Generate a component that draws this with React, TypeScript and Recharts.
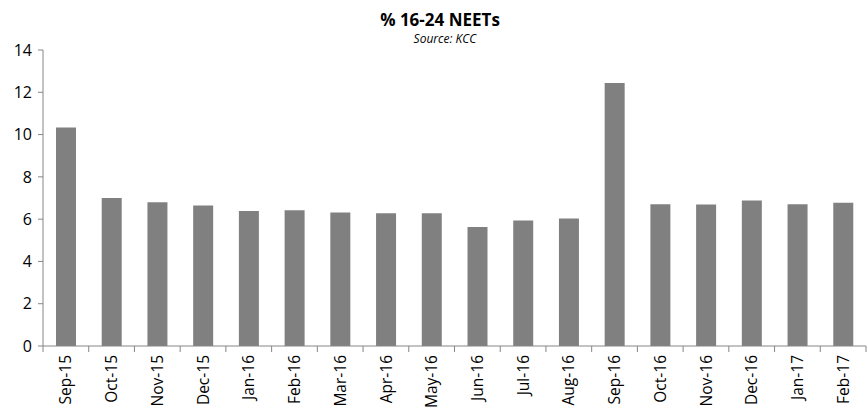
import { BarChart, Bar, XAxis, YAxis } from 'recharts'

const months = [
  'Sep-15', 'Oct-15', 'Nov-15', 'Dec-15', 'Jan-16', 'Feb-16', 'Mar-16', 'Apr-16', 'May-16',
  'Jun-16', 'Jul-16', 'Aug-16', 'Sep-16', 'Oct-16', 'Nov-16', 'Dec-16', 'Jan-17', 'Feb-17'
]
const neetPct = [10.33, 7.0, 6.8, 6.64, 6.39, 6.42, 6.31, 6.28, 6.28, 5.63, 5.93, 6.03, 12.44, 6.7, 6.69, 6.88, 6.7, 6.78]
const yTicks = [0, 2, 4, 6, 8, 10, 12, 14]

const data = months.map((month, i) => ({ month, value: neetPct[i] }))

const W = 868
const H = 411
const LEFT = 43
const RIGHT = 2
const TOP = 50
const XAXIS_H = 65
const FONT = '"Open Sans", sans-serif'
const AXIS = '#868686'

const band = (W - LEFT - RIGHT) / months.length

const MonthTick = ({ x, y, payload, index }: any) => {
  const last = index === months.length - 1
  return (
    <g>
      <line x1={x - band / 2} y1={y} x2={x - band / 2} y2={y + 6} stroke={AXIS} />
      {last && <line x1={x + band / 2} y1={y} x2={x + band / 2} y2={y + 6} stroke={AXIS} />}
      <text
        transform={`translate(${x},${y + 9}) rotate(-90)`}
        textAnchor="end"
        dy="0.36em"
        fontSize={15.5}
        fontFamily={FONT}
        fill="#000"
      >
        {payload.value}
      </text>
    </g>
  )
}

export default function App() {
  return (
    <div style={{ position: 'absolute', left: 0, top: 0, width: W, height: H, background: '#fff' }}>
      <svg width={W} height={H} style={{ position: 'absolute', left: 0, top: 0 }}>
        <text x={440} y={26} textAnchor="middle" fontSize={17} fontWeight="bold" fontFamily={FONT}>
          % 16-24 NEETs
        </text>
        <text x={445} y={43} textAnchor="middle" fontSize={12} fontStyle="italic" fontFamily={FONT}>
          Source: KCC
        </text>
      </svg>
      <BarChart
        width={W}
        height={H}
        data={data}
        margin={{ top: TOP, right: RIGHT, left: 0, bottom: 0 }}
        barSize={20}
        style={{ position: 'absolute', left: 0, top: 0 }}
      >
        <XAxis
          dataKey="month"
          interval={0}
          height={XAXIS_H}
          tickLine={false}
          tickSize={0}
          tickMargin={0}
          stroke={AXIS}
          tick={<MonthTick />}
        />
        <YAxis
          domain={[0, 14]}
          ticks={yTicks}
          width={LEFT}
          tickSize={5}
          tickMargin={6}
          stroke={AXIS}
          tick={{ fontSize: 16, fontFamily: FONT, fill: '#000' }}
        />
        <Bar dataKey="value" fill="#808080" isAnimationActive={false} />
      </BarChart>
    </div>
  )
}
